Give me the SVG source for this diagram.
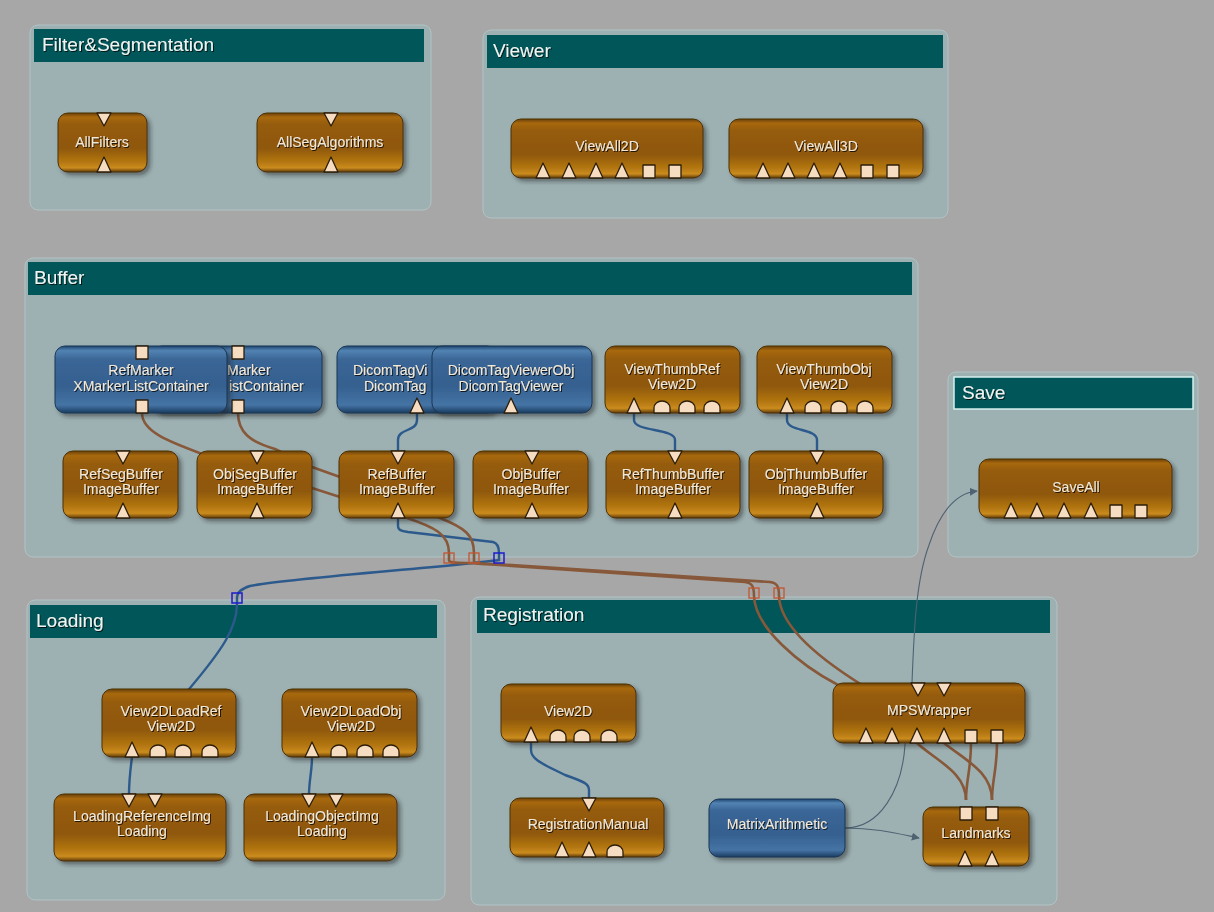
<svg xmlns="http://www.w3.org/2000/svg" width="1214" height="912" viewBox="0 0 1214 912">
  <defs>
    <linearGradient id="gBrown" x1="0" y1="0" x2="0" y2="1">
      <stop offset="0" stop-color="#6a4106"/>
      <stop offset="0.07" stop-color="#a8690f"/>
      <stop offset="0.2" stop-color="#955b0b"/>
      <stop offset="0.6" stop-color="#8f580a"/>
      <stop offset="0.84" stop-color="#b57812"/>
      <stop offset="0.93" stop-color="#cb8c1e"/>
      <stop offset="1" stop-color="#5e3a05"/>
    </linearGradient>
    <linearGradient id="gBlue" x1="0" y1="0" x2="0" y2="1">
      <stop offset="0" stop-color="#1f4670"/>
      <stop offset="0.07" stop-color="#5283b3"/>
      <stop offset="0.2" stop-color="#3a6696"/>
      <stop offset="0.6" stop-color="#34608f"/>
      <stop offset="0.88" stop-color="#4574a5"/>
      <stop offset="1" stop-color="#1a3c60"/>
    </linearGradient>
    <filter id="nsh" x="-10%" y="-15%" width="130%" height="150%">
      <feDropShadow dx="3" dy="3" stdDeviation="2" flood-color="#1e1e1e" flood-opacity="0.5"/>
    </filter>
    <filter id="tsh" x="-5%" y="-20%" width="115%" height="160%">
      <feDropShadow dx="1" dy="1" stdDeviation="0.5" flood-color="#000" flood-opacity="0.75"/>
    </filter>
    <marker id="arr" viewBox="0 0 10 10" refX="9" refY="5" markerWidth="8" markerHeight="8" orient="auto" markerUnits="userSpaceOnUse">
      <path d="M0,0 L10,5 L0,10 z" fill="#4e6272"/>
    </marker>
    <!-- port glyphs: placed at node edge -->
    <path id="pTu" d="M-7,0 L0,-15 L7,0 Z"/>
    <path id="pTd" d="M-7,0 L0,13 L7,0 Z"/>
    <path id="pSemi" d="M-8,0 V-5 A8,7 0 0 1 8,-5 V0 Z"/>
    <path id="pSqB" d="M-6,0 V-13 H6 V0 Z"/>
    <path id="pSqT" d="M-6,0 V13 H6 V0 Z"/>
  </defs>
  <style>
    .panel { fill: #9db1b3; stroke: #b2c3c4; stroke-width: 1; }
    .hdr { fill: #005658; }
    .htxt { font-family: "Liberation Sans", Arial, sans-serif; font-size: 19px; fill: #eef4f2; filter: url(#tsh); }
    .nb { fill: url(#gBrown); stroke: #4d3006; stroke-width: 1; filter: url(#nsh); }
    .nu { fill: url(#gBlue); stroke: #1b3756; stroke-width: 1; filter: url(#nsh); }
    .nt { font-family: "Liberation Sans", Arial, sans-serif; font-size: 14px; fill: #f1e8d8; text-anchor: middle; filter: url(#tsh); }
    .ns { text-anchor: start; }
    .pt { fill: #f6dcc0; stroke: #2b1d0a; stroke-width: 1.3; stroke-linejoin: round; }
    .wb { fill: none; stroke: #87583a; stroke-width: 2.6; }
    .wu { fill: none; stroke: #2d5a8c; stroke-width: 2.4; }
    .wt { fill: none; stroke: #4e6272; stroke-width: 1.1; }
    .jb { fill: none; stroke: #c4552e; stroke-width: 1.3; }
    .ju { fill: none; stroke: #1c1ccf; stroke-width: 1.5; }
  </style>

  <rect x="0" y="0" width="1214" height="912" fill="#a7a7a7"/>

  <!-- groups -->
  <g id="grp-filter">
    <rect class="panel" x="30" y="25" width="401" height="185" rx="8"/>
    <rect class="hdr" x="34" y="29" width="390" height="33"/>
    <text class="htxt" x="42" y="51">Filter&amp;Segmentation</text>
  </g>
  <g id="grp-viewer">
    <rect class="panel" x="483" y="30" width="465" height="188" rx="8"/>
    <rect class="hdr" x="487" y="35" width="456" height="33"/>
    <text class="htxt" x="493" y="57">Viewer</text>
  </g>
  <g id="grp-buffer">
    <rect class="panel" x="25" y="258" width="893" height="299" rx="8"/>
    <rect class="hdr" x="28" y="262" width="884" height="33"/>
    <text class="htxt" x="34" y="284">Buffer</text>
  </g>
  <g id="grp-save">
    <rect class="panel" x="948" y="372" width="250" height="185" rx="8"/>
    <rect class="hdr" x="954" y="377" width="239" height="32" stroke="#d5efef" stroke-width="1.5"/>
    <text class="htxt" x="962" y="399">Save</text>
  </g>
  <g id="grp-loading">
    <rect class="panel" x="27" y="600" width="418" height="300" rx="8"/>
    <rect class="hdr" x="30" y="605" width="407" height="33"/>
    <text class="htxt" x="36" y="627">Loading</text>
  </g>
  <g id="grp-registration">
    <rect class="panel" x="471" y="597" width="586" height="308" rx="8"/>
    <rect class="hdr" x="477" y="600" width="573" height="33"/>
    <text class="htxt" x="483" y="621">Registration</text>
  </g>

  <!-- connectors -->
  <g id="connectors">
    <!-- image connections (blue) -->
    <path class="wu" d="M417,413 L417,420 C417,432 398,428 398,440 L398,452"/>
    <path class="wu" d="M634,413 L634,420 C634,432 675,428 675,440 L675,452"/>
    <path class="wu" d="M787,413 L787,420 C787,432 817,428 817,440 L817,452"/>
    <path class="wu" d="M398,518 L398,526 C398,530 401,531 408,532 L493,542 C497,543 499,546 499,553 L499,560 C450,567 290,578 250,586 C240,589 237,593 237,598 L237,604 C237,628 222,650 190,688 L160,720 L132,755"/>
    <path class="wu" d="M132,757 C130,772 129,780 129,795"/>
    <path class="wu" d="M312,757 C312,772 309,780 309,795"/>
    <path class="wu" d="M531,742 L531,750 C531,760 545,765 565,775 C585,782 589,784 589,790 L589,799"/>
    <!-- marker list connections (brown) -->
    <path class="wb" d="M142,413 C142,432 170,442 205,455 L312,488 L340,497 L407,518 C434,527 449,534 449,553 L449,560 C449,563 455,563 470,563 L745,582 C752,583 754,586 754,596 C755,628 800,665 838,685 L917,743 C935,760 966,772 966,800"/>
    <path class="wb" d="M238,413 C238,432 250,442 275,449 L312,467 L340,477 L440,518 C465,528 474,535 474,553 L474,561 C474,564 480,564 495,564 L770,582 C777,583 779,586 779,596 C780,628 825,662 862,685 L944,743 C965,760 992,772 992,800"/>
    <path class="wb" d="M971,743 C971,770 966,780 966,800"/>
    <path class="wb" d="M997,743 C997,770 992,780 992,800"/>
    <!-- matrix outputs (thin) -->
    <path class="wt" d="M845,828 C875,828 895,833 919,838" marker-end="url(#arr)"/>
    <path class="wt" d="M845,828 C880,828 902,790 905,745 L912,683 C914,630 916,580 929,545 C940,512 956,493 977,491" marker-end="url(#arr)"/>
    <!-- junction handles -->
    <rect class="jb" x="444" y="553" width="10" height="10"/>
    <rect class="jb" x="469" y="553" width="10" height="10"/>
    <rect class="ju" x="494" y="553" width="10" height="10"/>
    <rect class="ju" x="232" y="593" width="10" height="10"/>
    <rect class="jb" x="749" y="588" width="10" height="10"/>
    <rect class="jb" x="774" y="588" width="10" height="10"/>
  </g>

  <!-- Filter&Segmentation -->
  <g id="n-AllFilters">
    <rect class="nb" x="58" y="113" width="89" height="59" rx="10"/>
    <text class="nt" x="102" y="147">AllFilters</text>
    <use href="#pTd" class="pt" x="104" y="113"/>
    <use href="#pTu" class="pt" x="104" y="172"/>
  </g>
  <g id="n-AllSegAlgorithms">
    <rect class="nb" x="257" y="113" width="146" height="59" rx="10"/>
    <text class="nt" x="330" y="147">AllSegAlgorithms</text>
    <use href="#pTd" class="pt" x="331" y="113"/>
    <use href="#pTu" class="pt" x="331" y="172"/>
  </g>

  <!-- Viewer -->
  <g id="n-ViewAll2D">
    <rect class="nb" x="511" y="119" width="192" height="59" rx="10"/>
    <text class="nt" x="607" y="151">ViewAll2D</text>
    <use href="#pTu" class="pt" x="543" y="178"/>
    <use href="#pTu" class="pt" x="569" y="178"/>
    <use href="#pTu" class="pt" x="596" y="178"/>
    <use href="#pTu" class="pt" x="622" y="178"/>
    <use href="#pSqB" class="pt" x="649" y="178"/>
    <use href="#pSqB" class="pt" x="675" y="178"/>
  </g>
  <g id="n-ViewAll3D">
    <rect class="nb" x="729" y="119" width="194" height="59" rx="10"/>
    <text class="nt" x="826" y="151">ViewAll3D</text>
    <use href="#pTu" class="pt" x="763" y="178"/>
    <use href="#pTu" class="pt" x="788" y="178"/>
    <use href="#pTu" class="pt" x="814" y="178"/>
    <use href="#pTu" class="pt" x="840" y="178"/>
    <use href="#pSqB" class="pt" x="867" y="178"/>
    <use href="#pSqB" class="pt" x="893" y="178"/>
  </g>

  <!-- Buffer, top row (two nodes partly hidden under their neighbours) -->
  <g id="n-ObjMarker">
    <rect class="nu" x="152" y="346" width="170" height="67" rx="10"/>
    <text class="nt ns" x="227" y="375">Marker</text>
    <text class="nt ns" x="229" y="391">istContainer</text>
    <use href="#pSqT" class="pt" x="238" y="346"/>
    <use href="#pSqB" class="pt" x="238" y="413"/>
  </g>
  <g id="n-RefMarker">
    <rect class="nu" x="55" y="346" width="172" height="67" rx="10"/>
    <text class="nt" x="141" y="375">RefMarker</text>
    <text class="nt" x="141" y="391">XMarkerListContainer</text>
    <use href="#pSqT" class="pt" x="142" y="346"/>
    <use href="#pSqB" class="pt" x="142" y="413"/>
  </g>
  <g id="n-DicomTagViewerRef">
    <rect class="nu" x="337" y="346" width="160" height="67" rx="10"/>
    <text class="nt ns" x="353" y="375">DicomTagVi</text>
    <text class="nt ns" x="364" y="391">DicomTag</text>
    <use href="#pTu" class="pt" x="417" y="413"/>
  </g>
  <g id="n-DicomTagViewerObj">
    <rect class="nu" x="432" y="346" width="160" height="67" rx="10"/>
    <text class="nt" x="511" y="375">DicomTagViewerObj</text>
    <text class="nt" x="511" y="391">DicomTagViewer</text>
    <use href="#pTu" class="pt" x="511" y="413"/>
  </g>
  <g id="n-ViewThumbRef">
    <rect class="nb" x="605" y="346" width="135" height="67" rx="10"/>
    <text class="nt" x="672" y="374">ViewThumbRef</text>
    <text class="nt" x="672" y="389">View2D</text>
    <use href="#pTu" class="pt" x="634" y="413"/>
    <use href="#pSemi" class="pt" x="662" y="413"/>
    <use href="#pSemi" class="pt" x="687" y="413"/>
    <use href="#pSemi" class="pt" x="712" y="413"/>
  </g>
  <g id="n-ViewThumbObj">
    <rect class="nb" x="757" y="346" width="135" height="67" rx="10"/>
    <text class="nt" x="824" y="374">ViewThumbObj</text>
    <text class="nt" x="824" y="389">View2D</text>
    <use href="#pTu" class="pt" x="787" y="413"/>
    <use href="#pSemi" class="pt" x="813" y="413"/>
    <use href="#pSemi" class="pt" x="839" y="413"/>
    <use href="#pSemi" class="pt" x="865" y="413"/>
  </g>

  <!-- Buffer, bottom row -->
  <g id="n-RefSegBuffer">
    <rect class="nb" x="63" y="451" width="115" height="67" rx="10"/>
    <text class="nt" x="121" y="479">RefSegBuffer</text>
    <text class="nt" x="121" y="494">ImageBuffer</text>
    <use href="#pTd" class="pt" x="123" y="451"/>
    <use href="#pTu" class="pt" x="123" y="518"/>
  </g>
  <g id="n-ObjSegBuffer">
    <rect class="nb" x="197" y="451" width="115" height="67" rx="10"/>
    <text class="nt" x="255" y="479">ObjSegBuffer</text>
    <text class="nt" x="255" y="494">ImageBuffer</text>
    <use href="#pTd" class="pt" x="257" y="451"/>
    <use href="#pTu" class="pt" x="257" y="518"/>
  </g>
  <g id="n-RefBuffer">
    <rect class="nb" x="339" y="451" width="115" height="67" rx="10"/>
    <text class="nt" x="397" y="479">RefBuffer</text>
    <text class="nt" x="397" y="494">ImageBuffer</text>
    <use href="#pTd" class="pt" x="398" y="451"/>
    <use href="#pTu" class="pt" x="398" y="518"/>
  </g>
  <g id="n-ObjBuffer">
    <rect class="nb" x="473" y="451" width="115" height="67" rx="10"/>
    <text class="nt" x="531" y="479">ObjBuffer</text>
    <text class="nt" x="531" y="494">ImageBuffer</text>
    <use href="#pTd" class="pt" x="532" y="451"/>
    <use href="#pTu" class="pt" x="532" y="518"/>
  </g>
  <g id="n-RefThumbBuffer">
    <rect class="nb" x="606" y="451" width="134" height="67" rx="10"/>
    <text class="nt" x="673" y="479">RefThumbBuffer</text>
    <text class="nt" x="673" y="494">ImageBuffer</text>
    <use href="#pTd" class="pt" x="675" y="451"/>
    <use href="#pTu" class="pt" x="675" y="518"/>
  </g>
  <g id="n-ObjThumbBuffer">
    <rect class="nb" x="749" y="451" width="134" height="67" rx="10"/>
    <text class="nt" x="816" y="479">ObjThumbBuffer</text>
    <text class="nt" x="816" y="494">ImageBuffer</text>
    <use href="#pTd" class="pt" x="817" y="451"/>
    <use href="#pTu" class="pt" x="817" y="518"/>
  </g>

  <!-- Save -->
  <g id="n-SaveAll">
    <rect class="nb" x="979" y="459" width="193" height="59" rx="10"/>
    <text class="nt" x="1076" y="492">SaveAll</text>
    <use href="#pTu" class="pt" x="1011" y="518"/>
    <use href="#pTu" class="pt" x="1037" y="518"/>
    <use href="#pTu" class="pt" x="1064" y="518"/>
    <use href="#pTu" class="pt" x="1091" y="518"/>
    <use href="#pSqB" class="pt" x="1116" y="518"/>
    <use href="#pSqB" class="pt" x="1141" y="518"/>
  </g>

  <!-- Loading -->
  <g id="n-View2DLoadRef">
    <rect class="nb" x="102" y="689" width="134" height="68" rx="10"/>
    <text class="nt" x="171" y="716">View2DLoadRef</text>
    <text class="nt" x="171" y="731">View2D</text>
    <use href="#pTu" class="pt" x="132" y="757"/>
    <use href="#pSemi" class="pt" x="158" y="757"/>
    <use href="#pSemi" class="pt" x="183" y="757"/>
    <use href="#pSemi" class="pt" x="210" y="757"/>
  </g>
  <g id="n-View2DLoadObj">
    <rect class="nb" x="282" y="689" width="135" height="68" rx="10"/>
    <text class="nt" x="351" y="716">View2DLoadObj</text>
    <text class="nt" x="351" y="731">View2D</text>
    <use href="#pTu" class="pt" x="312" y="757"/>
    <use href="#pSemi" class="pt" x="339" y="757"/>
    <use href="#pSemi" class="pt" x="365" y="757"/>
    <use href="#pSemi" class="pt" x="391" y="757"/>
  </g>
  <g id="n-LoadingReferenceImg">
    <rect class="nb" x="54" y="794" width="172" height="67" rx="10"/>
    <text class="nt" x="142" y="821">LoadingReferenceImg</text>
    <text class="nt" x="142" y="836">Loading</text>
    <use href="#pTd" class="pt" x="129" y="794"/>
    <use href="#pTd" class="pt" x="155" y="794"/>
  </g>
  <g id="n-LoadingObjectImg">
    <rect class="nb" x="244" y="794" width="153" height="67" rx="10"/>
    <text class="nt" x="322" y="821">LoadingObjectImg</text>
    <text class="nt" x="322" y="836">Loading</text>
    <use href="#pTd" class="pt" x="309" y="794"/>
    <use href="#pTd" class="pt" x="336" y="794"/>
  </g>

  <!-- Registration -->
  <g id="n-View2D">
    <rect class="nb" x="501" y="684" width="135" height="58" rx="10"/>
    <text class="nt" x="568" y="716">View2D</text>
    <use href="#pTu" class="pt" x="531" y="742"/>
    <use href="#pSemi" class="pt" x="558" y="742"/>
    <use href="#pSemi" class="pt" x="582" y="742"/>
    <use href="#pSemi" class="pt" x="609" y="742"/>
  </g>
  <g id="n-RegistrationManual">
    <rect class="nb" x="510" y="798" width="154" height="59" rx="10"/>
    <text class="nt" x="588" y="829">RegistrationManual</text>
    <use href="#pTd" class="pt" x="589" y="798"/>
    <use href="#pTu" class="pt" x="562" y="857"/>
    <use href="#pTu" class="pt" x="589" y="857"/>
    <use href="#pSemi" class="pt" x="615" y="857"/>
  </g>
  <g id="n-MatrixArithmetic">
    <rect class="nu" x="709" y="799" width="136" height="58" rx="10"/>
    <text class="nt" x="777" y="829">MatrixArithmetic</text>
  </g>
  <g id="n-MPSWrapper">
    <rect class="nb" x="833" y="683" width="192" height="60" rx="10"/>
    <text class="nt" x="929" y="715">MPSWrapper</text>
    <use href="#pTd" class="pt" x="918" y="683"/>
    <use href="#pTd" class="pt" x="944" y="683"/>
    <use href="#pTu" class="pt" x="866" y="743"/>
    <use href="#pTu" class="pt" x="892" y="743"/>
    <use href="#pTu" class="pt" x="917" y="743"/>
    <use href="#pTu" class="pt" x="944" y="743"/>
    <use href="#pSqB" class="pt" x="971" y="743"/>
    <use href="#pSqB" class="pt" x="997" y="743"/>
  </g>
  <g id="n-Landmarks">
    <rect class="nb" x="923" y="807" width="106" height="59" rx="10"/>
    <text class="nt" x="976" y="838">Landmarks</text>
    <use href="#pSqT" class="pt" x="966" y="807"/>
    <use href="#pSqT" class="pt" x="992" y="807"/>
    <use href="#pTu" class="pt" x="965" y="866"/>
    <use href="#pTu" class="pt" x="992" y="866"/>
  </g>
</svg>
